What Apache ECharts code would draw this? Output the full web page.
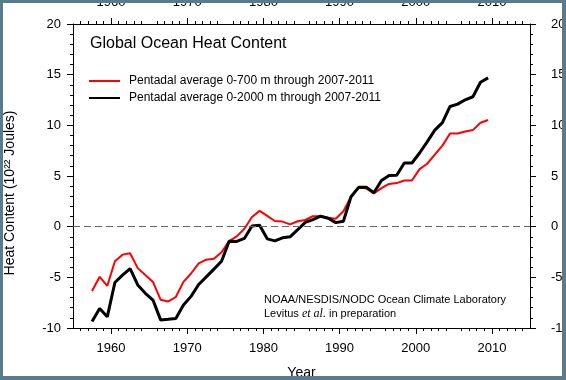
<!DOCTYPE html>
<html>
<head>
<meta charset="utf-8">
<script src="https://cdn.jsdelivr.net/npm/echarts@6/dist/echarts.min.js"></script>
<style>
html,body{margin:0;padding:0;background:#fff;}
#chart{width:566px;height:380px;}
</style>
</head>
<body>
<div id="chart"></div>
<script>
// Pentad centre years (mid-year)
var years = [1957.5,1958.5,1959.5,1960.5,1961.5,1962.5,1963.5,1964.5,1965.5,1966.5,
  1967.5,1968.5,1969.5,1970.5,1971.5,1972.5,1973.5,1974.5,1975.5,1976.5,
  1977.5,1978.5,1979.5,1980.5,1981.5,1982.5,1983.5,1984.5,1985.5,1986.5,
  1987.5,1988.5,1989.5,1990.5,1991.5,1992.5,1993.5,1994.5,1995.5,1996.5,
  1997.5,1998.5,1999.5,2000.5,2001.5,2002.5,2003.5,2004.5,2005.5,2006.5,
  2007.5,2008.5,2009.5];
// 0-700 m pentadal heat content (10^22 J)
var heat700 = [-6.35,-4.95,-5.85,-3.42,-2.76,-2.62,-4.09,-4.78,-5.45,-7.21,
  -7.38,-6.94,-5.45,-4.62,-3.62,-3.26,-3.16,-2.52,-1.43,-0.96,
  -0.2,0.96,1.56,1.06,0.56,0.5,0.23,0.53,0.66,1.03,
  1.03,0.89,0.79,1.52,2.95,3.85,3.78,3.29,3.8,4.22,
  4.3,4.55,4.55,5.68,6.21,7.11,8.0,9.2,9.2,9.4,
  9.53,10.26,10.53];
// 0-2000 m pentadal heat content (10^22 J)
var heat2000 = [-9.37,-8.07,-8.9,-5.51,-4.78,-4.15,-5.75,-6.58,-7.24,-9.2,
  -9.14,-9.07,-7.74,-6.88,-5.71,-4.95,-4.19,-3.42,-1.43,-1.46,
  -1.16,0.07,0.13,-1.2,-1.4,-1.1,-1.0,-0.3,0.43,0.69,
  1.03,0.83,0.4,0.53,2.95,3.88,3.9,3.35,4.55,5.06,
  5.08,6.28,6.28,7.27,8.37,9.53,10.26,11.86,12.09,12.52,
  12.82,14.25,14.68];
var decadeTicks = [1960,1970,1980,1990,2000,2010];
var seriesNames = ['Pentadal average 0-700 m through 2007-2011',
                   'Pentadal average 0-2000 m through 2007-2011'];
var titleText = 'Global Ocean Heat Content';
var yName = 'Heat Content (10\u00b2\u00b2 Joules)';
var xName = 'Year';
var credit1 = 'NOAA/NESDIS/NODC Ocean Climate Laboratory';

var FONT = "'Liberation Sans', Arial, Helvetica, sans-serif";
function pairs(xs, ys){ return xs.map(function(x,i){ return [x, ys[i]]; }); }

function xAx(pos, showName){
  return {
    type:'value', position:pos, min:1955, max:2015, interval:5,
    splitLine:{show:false},
    axisLine:{show:true, onZero:false, lineStyle:{color:'#000', width:1}},
    axisTick:{show:true, inside:false, length:6, customValues:decadeTicks, lineStyle:{color:'#000'}},
    minorTick:{show:true, splitNumber:5, length:3, lineStyle:{color:'#000'}},
    axisLabel:{show:true, customValues:decadeTicks, color:'#000', fontSize:13, fontFamily:FONT,
      formatter:function(v){ return String(Math.round(v)); },
      margin: pos==='top' ? 15 : 14},
    name: showName ? xName : '', nameLocation:'middle', nameGap:38,
    nameTextStyle:{color:'#000', fontSize:14, fontFamily:FONT}
  };
}
function yAx(pos){
  return {
    type:'value', position:pos, min:-10, max:20, interval:5,
    splitLine:{show:false},
    axisLine:{show:true, onZero:false, lineStyle:{color:'#000', width:1}},
    axisTick:{show:true, inside:false, length:6, lineStyle:{color:'#000'}},
    minorTick:{show:true, splitNumber:5, length:3, lineStyle:{color:'#000'}},
    axisLabel:{show:true, color:'#000', fontSize:13, fontFamily:FONT,
      margin: pos==='right' ? 21 : 12}
  };
}

var chart = echarts.init(document.getElementById('chart'), null, {renderer:'canvas'});
chart.setOption({
  animation:false,
  backgroundColor:'#fff',
  textStyle:{fontFamily:FONT},
  title:{text:titleText, left:90, top:36, padding:0,
    textStyle:{color:'#000', fontSize:16, fontWeight:'normal', fontFamily:FONT}},
  legend:{orient:'vertical', left:88, top:75, padding:0, itemWidth:31, itemHeight:14, itemGap:5,
    data:seriesNames,
    itemStyle:{opacity:0},
    textStyle:{color:'#000', fontSize:12, fontFamily:FONT, padding:[0,0,0,4]}},
  grid:{left:73, right:36, top:24, bottom:52, containLabel:false, outerBoundsMode:'none'},
  xAxis:[xAx('bottom', true), xAx('top', false)],
  yAxis:[yAx('left'), yAx('right')],
  graphic:[
    {type:'text', left:264, top:294, z:10,
      style:{text:credit1, fill:'#000', font:'11px '+FONT}},
    {type:'text', left:264, top:308, z:10,
      style:{text:'Levitus {it|et al.} in preparation', fill:'#000', font:'11px '+FONT,
        rich:{it:{fontFamily:"'Liberation Serif', 'Times New Roman', serif", fontStyle:'italic', fontSize:12}}}},
    {type:'text', z:10, rotation:Math.PI/2, x:3, y:193,
      style:{text:yName, fill:'#000', font:'14px '+FONT, align:'center', verticalAlign:'top'}},
    // frame border
    {type:'rect', z:100, shape:{x:0,y:0,width:566,height:3}, style:{fill:'#5a7b8c'}},
    {type:'rect', z:100, shape:{x:0,y:0,width:3,height:380}, style:{fill:'#5a7b8c'}},
    {type:'rect', z:100, shape:{x:562,y:0,width:4,height:380}, style:{fill:'#5a7b8c'}},
    {type:'rect', z:100, shape:{x:0,y:376,width:566,height:4}, style:{fill:'#5a7b8c'}}
  ],
  series:[
    {name:seriesNames[0], type:'line', xAxisIndex:0, yAxisIndex:0, data:pairs(years, heat700),
      symbol:'none', color:'#ff0000', lineStyle:{color:'#ff0000', width:2}, z:3,
      markLine:{silent:true, symbol:'none', label:{show:false},
        lineStyle:{color:'#666', type:[7,4], width:1}, data:[{yAxis:0}]}},
    {name:seriesNames[1], type:'line', xAxisIndex:0, yAxisIndex:0, data:pairs(years, heat2000),
      symbol:'none', color:'#000', lineStyle:{color:'#000', width:3}, z:4}
  ]
});
</script>
</body>
</html>
